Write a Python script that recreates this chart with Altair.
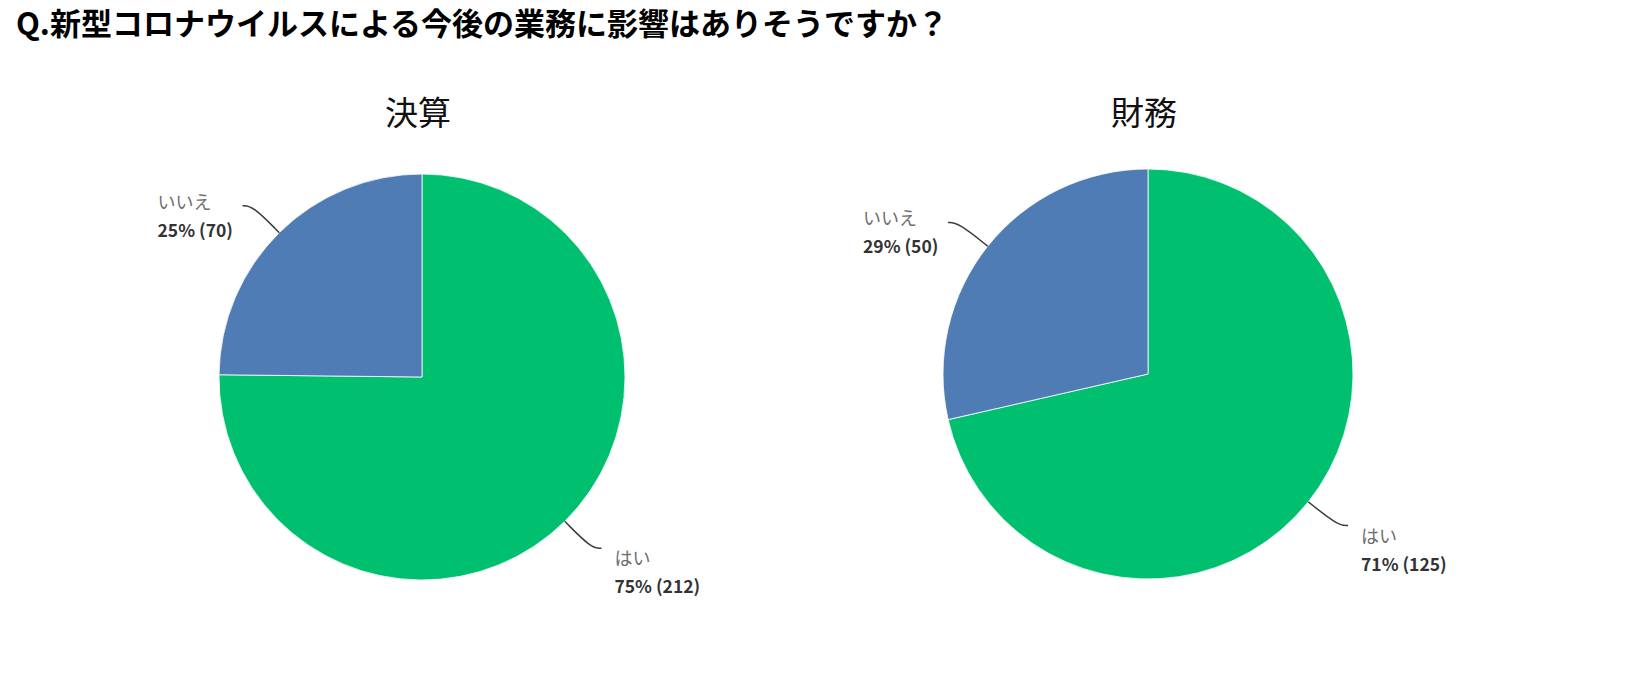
import altair as alt
import pandas as pd

# ---- data ----
TITLE = "Q.新型コロナウイルスによる今後の業務に影響はありそうですか？"
panels = ["決算", "財務"]
answers = ["はい", "いいえ"]
counts_kessan = [212, 70]
counts_zaimu = [125, 50]

colors = ["#00BF6F", "#507CB6"]
FONT = "Noto Sans CJK JP"

rows = []
for p, cnts in zip(panels, [counts_kessan, counts_zaimu]):
    for i, (a, c) in enumerate(zip(answers, cnts)):
        rows.append({"panel": p, "answer": a, "count": c, "idx": i})
df = pd.DataFrame(rows)
panel_df = pd.DataFrame({"panel": panels})
title_df = pd.DataFrame({"title": [TITLE]})

# layout (pixels inside the plot area)
layout = {"決算": (414, 369, 203), "財務": (1140, 366, 205)}


def pie(panel):
    cx, cy, r = layout[panel]
    base = alt.Chart(df).transform_filter(alt.datum.panel == panel)
    arc = base.mark_arc(radius=r, stroke="#ffffff", strokeWidth=0.8).encode(
        theta=alt.Theta("count:Q", stack="normalize"),
        color=alt.Color("answer:N", scale=alt.Scale(domain=answers, range=colors), legend=None),
        order=alt.Order("idx:Q"),
        x=alt.value(cx),
        y=alt.value(cy),
    )
    geo = (
        base.transform_joinaggregate(total="sum(count)")
        .transform_window(cum="sum(count)", sort=[alt.SortField("idx")])
        .transform_calculate(
            mid="2*PI*(datum.cum - datum.count/2)/datum.total",
        )
        .transform_calculate(s="sin(datum.mid)", c="cos(datum.mid)")
        .transform_calculate(
            ex=f"{cx} + {r}*datum.s",
            ey=f"{cy} - {r}*datum.c",
            bx=f"{cx} + {r + 38}*datum.s",
            by=f"{cy} - {r + 38}*datum.c",
        )
        .transform_calculate(
            tx="datum.bx + (datum.s > 0 ? 10 : -10)",
            label="round(datum.count/datum.total*100) + '% (' + datum.count + ')'",
        )
    )
    line = (
        geo.transform_calculate(k="[0, 1, 2]")
        .transform_flatten(["k"])
        .transform_calculate(
            lx="datum.k == 0 ? datum.ex : (datum.k == 1 ? datum.bx : datum.tx)",
            ly="datum.k == 0 ? datum.ey : datum.by",
        )
        .mark_line(interpolate="basis", color="#3c3c3c", strokeWidth=1.5)
        .encode(
            x=alt.X("lx:Q", scale=None, axis=None),
            y=alt.Y("ly:Q", scale=None, axis=None),
            detail="answer:N",
            order="k:Q",
        )
    )
    lab = geo.transform_calculate(
        lx="datum.s > 0 ? datum.tx + 13 : datum.tx - 85",
        ly1="datum.by + (datum.c < 0 ? 12 : -2)",
    ).transform_calculate(ly2="datum.ly1 + 28")
    name = lab.mark_text(
        align="left", baseline="middle", fontSize=18, font=FONT, color="#6e6e6e"
    ).encode(
        x=alt.X("lx:Q", scale=None, axis=None),
        y=alt.Y("ly1:Q", scale=None, axis=None),
        text="answer:N",
    )
    val = lab.mark_text(
        align="left", baseline="middle", fontSize=17.5, font=FONT, color="#333333", fontWeight=600
    ).encode(
        x=alt.X("lx:Q", scale=None, axis=None),
        y=alt.Y("ly2:Q", scale=None, axis=None),
        text="label:N",
    )
    sub = (
        alt.Chart(panel_df)
        .transform_filter(alt.datum.panel == panel)
        .mark_text(fontSize=33, font=FONT, color="#111111", baseline="middle")
        .encode(x=alt.value(cx - 4), y=alt.value(107), text="panel:N")
    )
    return [arc, line, name, val, sub]


title = alt.Chart(title_df).mark_text(
    align="left", baseline="middle", fontSize=31, fontWeight="bold", font=FONT, color="#000000"
).encode(x=alt.value(8), y=alt.value(18), text="title:N")

layers = [title] + pie("決算") + pie("財務")

chart = (
    alt.layer(*layers)
    .properties(width=1618, height=681, autosize=alt.AutoSizeParams(type="none"), padding=0)
    .configure_view(stroke=None)
)

chart.save("out.html", embed_options={"renderer": "svg", "actions": False})
